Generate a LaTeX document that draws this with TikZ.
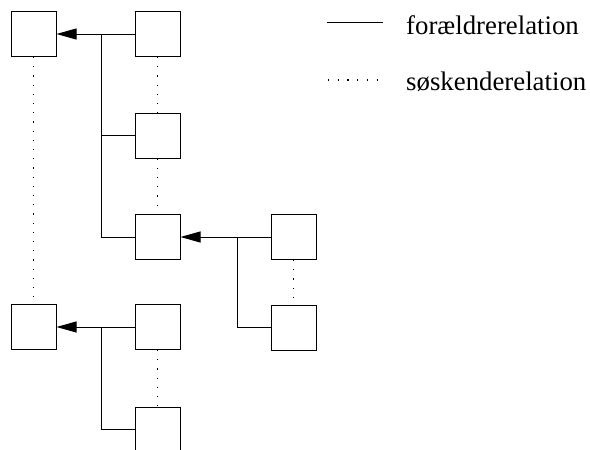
\documentclass[tikz,border=0pt]{standalone}
\usepackage{fontspec}
\setmainfont{Liberation Serif}
\usetikzlibrary{arrows.meta}
\begin{document}
\begin{tikzpicture}[x=1pt,y=-1pt,
  box/.style={draw,line width=1pt,minimum size=45pt,inner sep=0pt},
  rel/.style={line width=1pt},
  par/.style={rel,-{Triangle[length=20pt,width=11pt]}},
  sib/.style={line width=1.2pt,dash pattern=on 1.2pt off 8pt},
  lbl/.style={anchor=base west,inner sep=0pt,font=\fontsize{26.8}{30}\selectfont}]
\useasboundingbox (0,0) rectangle (590,450);
\clip (0,0) rectangle (590,450);
\node[box] (A) at (33.5,34) {};
\node[box] (B) at (157.5,34) {};
\node[box] (C) at (157.5,135.5) {};
\node[box] (D) at (157.5,237) {};
\node[box] (E) at (293.5,237) {};
\node[box] (F) at (293.5,327.5) {};
\node[box] (G) at (33.5,327) {};
\node[box] (H) at (157.5,327) {};
\node[box] (I) at (157.5,429.5) {};
% parent relations
\draw[par] (B.west) -- (A.east);
\coordinate (j1) at (101,34);
\draw[rel] (j1) |- (D.west);
\draw[rel] (j1 |- C.west) -- (C.west);
\draw[par] (E.west) -- (D.east);
\coordinate (j2) at (237,237);
\draw[rel] (j2) |- (F.west);
\draw[par] (H.west) -- (G.east);
\coordinate (j3) at (101,327);
\draw[rel] (j3) |- (I.west);
% sibling relations
\draw[sib] (A.south) -- (G.north);
\draw[sib] (B.south) -- (C.north);
\draw[sib] (C.south) -- (D.north);
\draw[sib] (E.south) -- (F.north);
\draw[sib] (H.south) -- (I.north);
% legend
\coordinate (l1a) at (327,22.7);
\coordinate (l1b) at (383,22.7);
\draw[rel] (l1a) -- (l1b);
\node[lbl] (t1) at (406,34) {forældrerelation};
\coordinate (l2a) at (328,80);
\coordinate (l2b) at (378,80);
\draw[sib,dash pattern=on 1.2pt off 8.5pt] (l2a) -- (l2b);
\node[lbl] (t2) at (406,90.7) {søskenderelation};
\end{tikzpicture}
\end{document}
